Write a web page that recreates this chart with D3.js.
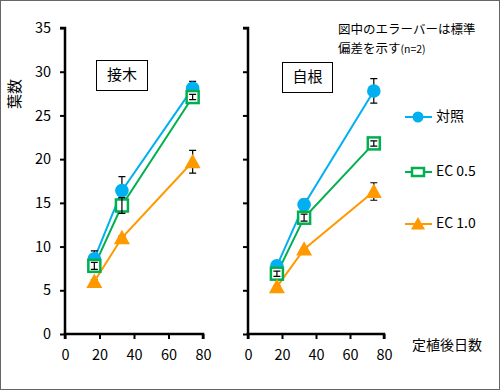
<!DOCTYPE html>
<html><head><meta charset="utf-8">
<script src="https://cdn.jsdelivr.net/npm/d3@7"></script>
<style>body{margin:0;background:#fff}svg{display:block}text{font-family:"Noto Sans CJK JP","Noto Sans",sans-serif}</style>
</head><body>
<svg id="c" width="500" height="390"></svg>
<script>
const days = [17, 33, 74];
const seriesNames = ["対照", "EC 0.5", "EC 1.0"];
const graftMean = [[8.6, 16.4, 28.1], [7.8, 14.7, 27.1], [6.0, 11.0, 19.7]];
const graftSD = [[0.9, 1.6, 0.8], [0.4, 0.9, 0.3], [0.2, 0.2, 1.3]];
const ownMean = [[7.8, 14.8, 27.8], [6.9, 13.3, 21.8], [5.4, 9.7, 16.3]];
const ownSD = [[0.2, 0.6, 1.4], [0.3, 0.4, 0.3], [0.1, 0.1, 1.0]];
const yTicks = [0, 5, 10, 15, 20, 25, 30, 35];
const xTicks = [0, 20, 40, 60, 80];
const panelTitles = ["接木", "自根"];
const colors = ["#00B0F0", "#00B050", "#FF9900"];

const svg = d3.select("#c");
svg.append("rect").attr("x",0.5).attr("y",0.5).attr("width",499).attr("height",389)
  .attr("fill","#fff").attr("stroke","#666");

const y = d3.scaleLinear().domain([0,35]).range([334,28]);
const panels = [
  {x0:65, x1:203, mean:graftMean, sd:graftSD, title:panelTitles[0], box:[96,60,51,30], yLabels:true},
  {x0:248, x1:384, mean:ownMean, sd:ownSD, title:panelTitles[1], box:[282,62,50,30], yLabels:false}
];

function marker(g, i, cx, cy, legend) {
  if (i===0) {
    g.append("circle").attr("cx",cx).attr("cy",cy).attr("r",legend?5.5:6.8).attr("fill",colors[0]);
  } else if (i===1) {
    if (legend) g.append("rect").attr("x",cx-6).attr("y",cy-4).attr("width",12).attr("height",8)
      .attr("fill","#fff").attr("stroke",colors[1]).attr("stroke-width",2.5);
    else g.append("rect").attr("x",cx-6).attr("y",cy-6).attr("width",12).attr("height",12)
      .attr("fill","#fff").attr("stroke",colors[1]).attr("stroke-width",2.5);
  } else {
    const s = legend?7:8;
    g.append("path").attr("d",`M${cx},${cy-s}L${cx+s},${cy+s*0.8}L${cx-s},${cy+s*0.8}Z`).attr("fill",colors[2]);
  }
}

panels.forEach(p => {
  const x = d3.scaleLinear().domain([0,80]).range([p.x0,p.x1]);
  const g = svg.append("g");
  const ya = d3.axisLeft(y).tickValues(yTicks).tickSize(5).tickFormat(p.yLabels?d3.format("d"):"");
  const ay = g.append("g").attr("transform",`translate(${p.x0},0)`).call(ya);
  const xa = d3.axisBottom(x).tickValues(xTicks).tickSize(5).tickFormat(d3.format("d"));
  const ax = g.append("g").attr("transform",`translate(0,334)`).call(xa);
  [ay,ax].forEach(a=>{
    a.select(".domain").attr("stroke","#000").attr("stroke-width",2.5);
    a.selectAll(".tick line").attr("stroke","#000").attr("stroke-width",2);
    a.selectAll("text").attr("font-size",14.5).attr("fill","#000");
  });
  ay.select(".domain").attr("d",`M-5,${y(35)}H0V${y(0)}`);
  ax.select(".domain").attr("d",`M${p.x0},5V0H${p.x1}V5`);
  ay.selectAll("text").attr("x",-14).attr("font-family","Open Sans, sans-serif");
  ax.selectAll("text").attr("y",16).attr("font-family","Open Sans, sans-serif");
  g.append("rect").attr("x",p.box[0]+0.5).attr("y",p.box[1]+0.5).attr("width",p.box[2]).attr("height",p.box[3])
    .attr("fill","#fff").attr("stroke","#000").attr("stroke-width",1);
  g.append("text").attr("x",p.box[0]+p.box[2]/2+0.5).attr("y",p.box[1]+p.box[3]/2+1).attr("text-anchor","middle")
    .attr("dominant-baseline","middle").attr("font-size",15).text(p.title);
  const line = d3.line().x((d,j)=>x(days[j])).y(d=>y(d));
  p.mean.forEach((m,i)=>{
    g.append("path").attr("d",line(m)).attr("fill","none").attr("stroke",colors[i]).attr("stroke-width",2);
  });
  function ebars(i){
    p.mean[i].forEach((v,j)=>{
      const cx=x(days[j]), t=y(v+p.sd[i][j]), b=y(v-p.sd[i][j]);
      g.append("path").attr("d",`M${cx},${t}V${b}M${cx-3.5},${t}H${cx+3.5}M${cx-3.5},${b}H${cx+3.5}`)
        .attr("stroke","#000").attr("stroke-width",1.2).attr("fill","none");
    });
  }
  [0,2].forEach(ebars);
  p.mean.forEach((m,i)=>{
    m.forEach((v,j)=>{ marker(g,i,x(days[j]),y(v),false); });
  });
  ebars(1);
});

svg.append("text").attr("transform","translate(20,94) rotate(-90)").attr("text-anchor","middle")
  .attr("font-size",15).text("葉数");
svg.append("text").attr("x",412).attr("y",350).attr("font-size",14).text("定植後日数");
svg.append("text").attr("x",338).attr("y",34).attr("font-size",12.5).text("図中のエラーバーは標準");
const n2 = svg.append("text").attr("x",338).attr("y",53).attr("font-size",12.5);
n2.append("tspan").text("偏差を示す");
n2.append("tspan").attr("font-size",10.5).text("(n=2)");
const legY = [117, 172, 224];
seriesNames.forEach((s,i)=>{
  const g = svg.append("g");
  g.append("line").attr("x1",405).attr("x2",432).attr("y1",legY[i]).attr("y2",legY[i]).attr("stroke",colors[i]).attr("stroke-width",2);
  marker(g,i,418,legY[i],true);
  g.append("text").attr("x",436).attr("y",legY[i]).attr("dominant-baseline","middle").attr("font-size",14).text(s);
});
</script>
</body></html>
